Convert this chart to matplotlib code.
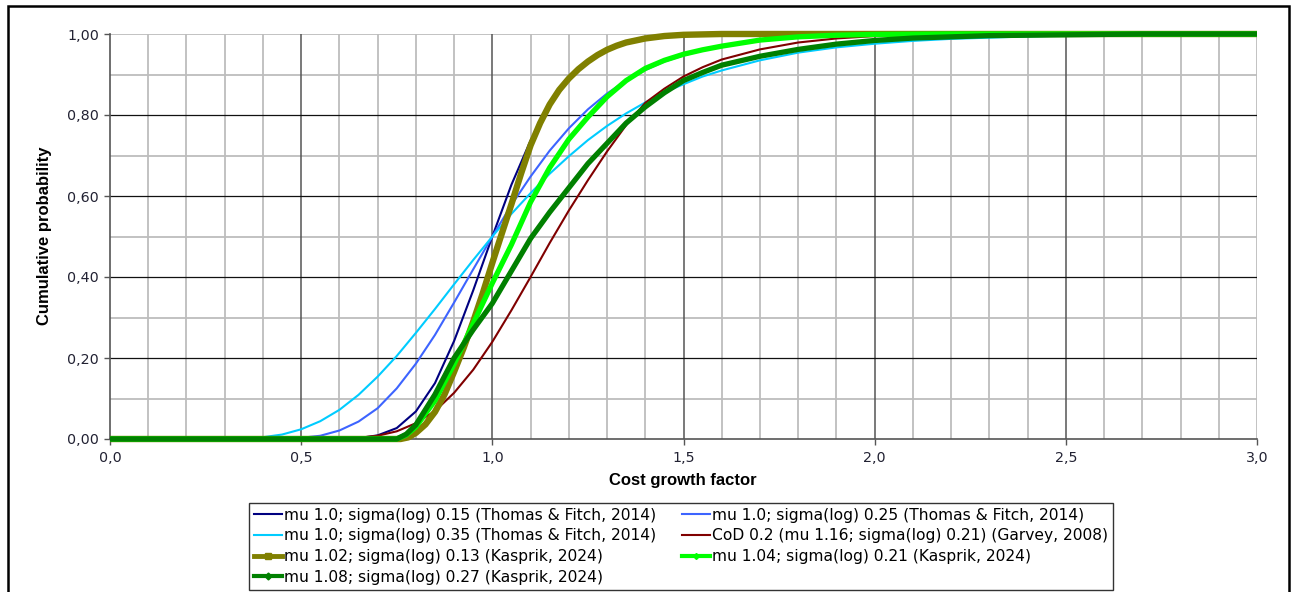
import matplotlib
matplotlib.use("Agg")
import matplotlib.pyplot as plt
from matplotlib.lines import Line2D
from matplotlib.patches import Rectangle
from matplotlib import font_manager

# ---------------- data ----------------
navy_x = [0, 0.55, 0.60, 0.65, 0.70, 0.75, 0.80, 0.85, 0.90, 0.95, 1.00, 1.05, 1.10,
          1.15, 1.20, 1.25, 1.30, 1.35, 1.40, 1.50, 1.60, 1.80, 3.0]
navy_y = [0, 0, 0.0003, 0.002, 0.009, 0.027, 0.068, 0.138, 0.242, 0.367, 0.50, 0.628, 0.737,
          0.825, 0.887, 0.931, 0.960, 0.977, 0.988, 0.996, 0.999, 1.0, 1.0]

blue_x = [0, 0.35, 0.40, 0.45, 0.50, 0.55, 0.60, 0.65, 0.70, 0.75, 0.80, 0.85, 0.90, 0.95,
          1.00, 1.05, 1.10, 1.15, 1.20, 1.25, 1.30, 1.35, 1.40, 1.45, 1.50, 1.55, 1.60,
          1.70, 1.80, 1.90, 2.00, 2.20, 2.50, 3.0]
blue_y = [0, 0, 0.0001, 0.0007, 0.003, 0.008, 0.021, 0.043, 0.076, 0.125, 0.186, 0.257, 0.337,
          0.419, 0.50, 0.578, 0.648, 0.712, 0.767, 0.814, 0.853, 0.885, 0.911, 0.932, 0.947,
          0.960, 0.970, 0.983, 0.991, 0.995, 0.997, 0.999, 1.0, 1.0]

cyan_x = [0, 0.25, 0.30, 0.35, 0.40, 0.45, 0.50, 0.55, 0.60, 0.65, 0.70, 0.75, 0.80, 0.85,
          0.90, 0.95, 1.00, 1.05, 1.10, 1.15, 1.20, 1.25, 1.30, 1.35, 1.40, 1.45, 1.50,
          1.55, 1.60, 1.70, 1.80, 1.90, 2.00, 2.10, 2.20, 2.30, 2.40, 2.50, 2.70, 3.00]
cyan_y = [0, 0, 0.0003, 0.0013, 0.0044, 0.011, 0.024, 0.044, 0.072, 0.109, 0.154, 0.205,
          0.262, 0.321, 0.382, 0.442, 0.50, 0.556, 0.607, 0.655, 0.698, 0.738, 0.773, 0.804,
          0.831, 0.856, 0.876, 0.895, 0.910, 0.935, 0.954, 0.967, 0.976, 0.983, 0.988,
          0.991, 0.994, 0.996, 0.998, 0.999]

red_x = [0, 0.60, 0.65, 0.70, 0.75, 0.80, 0.85, 0.90, 0.95, 1.00, 1.05, 1.10, 1.15, 1.20,
         1.25, 1.30, 1.35, 1.40, 1.45, 1.50, 1.55, 1.60, 1.70, 1.80, 1.90, 2.00, 2.20,
         2.50, 3.0]
red_y = [0, 0, 0.003, 0.008, 0.019, 0.039, 0.069, 0.114, 0.171, 0.240, 0.318, 0.400, 0.484,
         0.564, 0.639, 0.71, 0.775, 0.83, 0.865, 0.895, 0.918, 0.937, 0.962, 0.979, 0.989,
         0.995, 0.999, 1.0, 1.0]

olive_x = [0, 0.76, 0.78, 0.80, 0.825, 0.85, 0.875, 0.90, 0.925, 0.95, 0.975, 1.00, 1.025,
           1.05, 1.075, 1.10, 1.125, 1.15, 1.175, 1.20, 1.225, 1.25, 1.275, 1.30, 1.325,
           1.35, 1.40, 1.45, 1.50, 1.60, 3.0]
olive_y = [0, 0, 0.004, 0.015, 0.036, 0.067, 0.11, 0.166, 0.225, 0.29, 0.36, 0.435, 0.508,
           0.58, 0.655, 0.725, 0.78, 0.826, 0.862, 0.89, 0.913, 0.932, 0.948, 0.961, 0.971,
           0.979, 0.989, 0.995, 0.998, 1.0, 1.0]

lime_x = [0, 0.75, 0.775, 0.80, 0.85, 0.90, 0.95, 1.00, 1.05, 1.10, 1.15, 1.20, 1.25, 1.30,
          1.35, 1.40, 1.45, 1.50, 1.55, 1.60, 1.70, 1.80, 1.90, 2.00, 2.20, 3.0]
lime_y = [0, 0, 0.01, 0.03, 0.095, 0.185, 0.285, 0.385, 0.48, 0.585, 0.67, 0.74, 0.795,
          0.845, 0.885, 0.915, 0.935, 0.95, 0.961, 0.97, 0.985, 0.993, 0.997, 0.999, 1.0, 1.0]

dgreen_x = [0, 0.75, 0.775, 0.80, 0.85, 0.90, 0.95, 1.00, 1.05, 1.10, 1.15, 1.20, 1.25, 1.30,
            1.35, 1.40, 1.45, 1.50, 1.55, 1.60, 1.70, 1.80, 1.90, 2.00, 2.10, 2.20, 2.30,
            2.50, 2.70, 3.0]
dgreen_y = [0, 0, 0.012, 0.035, 0.11, 0.2, 0.27, 0.335, 0.415, 0.495, 0.56, 0.62, 0.68, 0.73,
            0.78, 0.82, 0.855, 0.885, 0.905, 0.923, 0.945, 0.962, 0.975, 0.984, 0.99,
            0.993, 0.996, 0.998, 1.0, 1.0]

labels = [
    "mu 1.0; sigma(log) 0.15 (Thomas & Fitch, 2014)",
    "mu 1.0; sigma(log) 0.25 (Thomas & Fitch, 2014)",
    "mu 1.0; sigma(log) 0.35 (Thomas & Fitch, 2014)",
    "CoD 0.2 (mu 1.16; sigma(log) 0.21) (Garvey, 2008)",
    "mu 1.02; sigma(log) 0.13 (Kasprik, 2024)",
    "mu 1.04; sigma(log) 0.21 (Kasprik, 2024)",
    "mu 1.08; sigma(log) 0.27 (Kasprik, 2024)",
]
x_tick_vals = [0.0, 0.5, 1.0, 1.5, 2.0, 2.5, 3.0]
x_tick_labels = ["0,0", "0,5", "1,0", "1,5", "2,0", "2,5", "3,0"]
y_tick_vals = [0.0, 0.2, 0.4, 0.6, 0.8, 1.0]
y_tick_labels = ["0,00", "0,20", "0,40", "0,60", "0,80", "1,00"]

# ---------------- fonts ----------------
avail = {f.name for f in font_manager.fontManager.ttflist}
regular = "Liberation Sans" if "Liberation Sans" in avail else "DejaVu Sans"
wide = "DejaVu Sans"
plt.rcParams["font.family"] = [regular, "DejaVu Sans"]

W, H = 1295, 592
fig = plt.figure(figsize=(W / 100, H / 100), dpi=100)
fig.patch.set_facecolor("white")

L, R, T, B = 110, 1257, 34, 439
ax = fig.add_axes([L / W, 1 - B / H, (R - L) / W, (B - T) / H])
ax.set_xlim(0, 3.0)
ax.set_ylim(0, 1.0)

# grid
minor_x = [i / 10 for i in range(1, 31)]
minor_y = [i / 10 for i in range(1, 11)]
for v in minor_x:
    if abs(v * 2 - round(v * 2)) > 1e-6:
        ax.axvline(v, color="#bdbdbd", lw=1.3, zorder=0.5)
for v in minor_y:
    if abs(v * 5 - round(v * 5)) > 1e-6 or abs(v - 1.0) < 1e-6:
        ax.axhline(v, color="#bdbdbd", lw=1.3, zorder=0.5)
for v in [0.5, 1.0, 1.5, 2.0, 2.5]:
    ax.axvline(v, color="#555555", lw=1.1, zorder=0.6)
ax.axvline(3.0, color="#bdbdbd", lw=1.3, zorder=0.6)
for v in [0.2, 0.4, 0.6, 0.8]:
    ax.axhline(v, color="#111111", lw=0.9, zorder=0.6)

for s in ["top", "right"]:
    ax.spines[s].set_visible(False)
for s in ["left", "bottom"]:
    ax.spines[s].set_color("#555555")
    ax.spines[s].set_linewidth(1.2)

ax.set_xticks(x_tick_vals)
ax.set_xticklabels(x_tick_labels, family=[wide])
ax.set_yticks(y_tick_vals)
ax.set_yticklabels(y_tick_labels, family=[wide])
ax.tick_params(axis="both", direction="out", length=4, width=1, color="#555555",
               labelsize=10.3, labelcolor="#222233")
ax.tick_params(axis="x", pad=5)
ax.tick_params(axis="y", pad=4)

series = [
    (navy_x, navy_y, "#000080", 1.5),
    (blue_x, blue_y, "#3d64ff", 1.5),
    (cyan_x, cyan_y, "#00ccff", 1.5),
    (red_x, red_y, "#800000", 1.5),
    (olive_x, olive_y, "#808000", 4.6),
    (lime_x, lime_y, "#00ff00", 3.8),
    (dgreen_x, dgreen_y, "#008000", 3.8),
]
for i, (xs, ys, c, lw) in enumerate(series):
    ax.plot(xs, ys, color=c, lw=lw, solid_joinstyle="round", solid_capstyle="butt",
            zorder=2 + i, clip_on=False)

# axis titles
fig.text(45 / W, 1 - 236 / H, "Cumulative probability", rotation=90, ha="center",
         va="center", fontsize=12, fontweight="bold")
fig.text(683 / W, 1 - 481 / H, "Cost growth factor", ha="center", va="center",
         fontsize=12, fontweight="bold")

# legend
handles = [
    Line2D([], [], color="#000080", lw=1.5),
    Line2D([], [], color="#3d64ff", lw=1.5),
    Line2D([], [], color="#00ccff", lw=1.5),
    Line2D([], [], color="#800000", lw=1.5),
    Line2D([], [], color="#808000", lw=3.5, marker="s", markersize=4),
    Line2D([], [], color="#00ff00", lw=3.0, marker="D", markersize=3),
    Line2D([], [], color="#008000", lw=3.0, marker="D", markersize=3.5),
]
order = [0, 2, 4, 6, 1, 3, 5]
leg = fig.legend([handles[i] for i in order], [labels[i] for i in order],
                 loc="upper left", bbox_to_anchor=(249 / W, 1 - 503 / H),
                 ncol=2, frameon=True, fancybox=False, shadow=False,
                 prop={"family": [wide], "size": 11.2},
                 handlelength=1.8, handletextpad=0.15, columnspacing=1.65,
                 labelspacing=0.37, borderpad=0.3, borderaxespad=0)
leg.get_frame().set_edgecolor("black")
leg.get_frame().set_linewidth(1.0)

# outer border
fig.add_artist(Rectangle((8 / W, -0.02), (1289 - 8) / W, 1 - 6 / H + 0.02,
                         transform=fig.transFigure, fill=False, edgecolor="black",
                         lw=1.8, zorder=10))

fig.savefig("out.png", dpi=100, facecolor="white")
